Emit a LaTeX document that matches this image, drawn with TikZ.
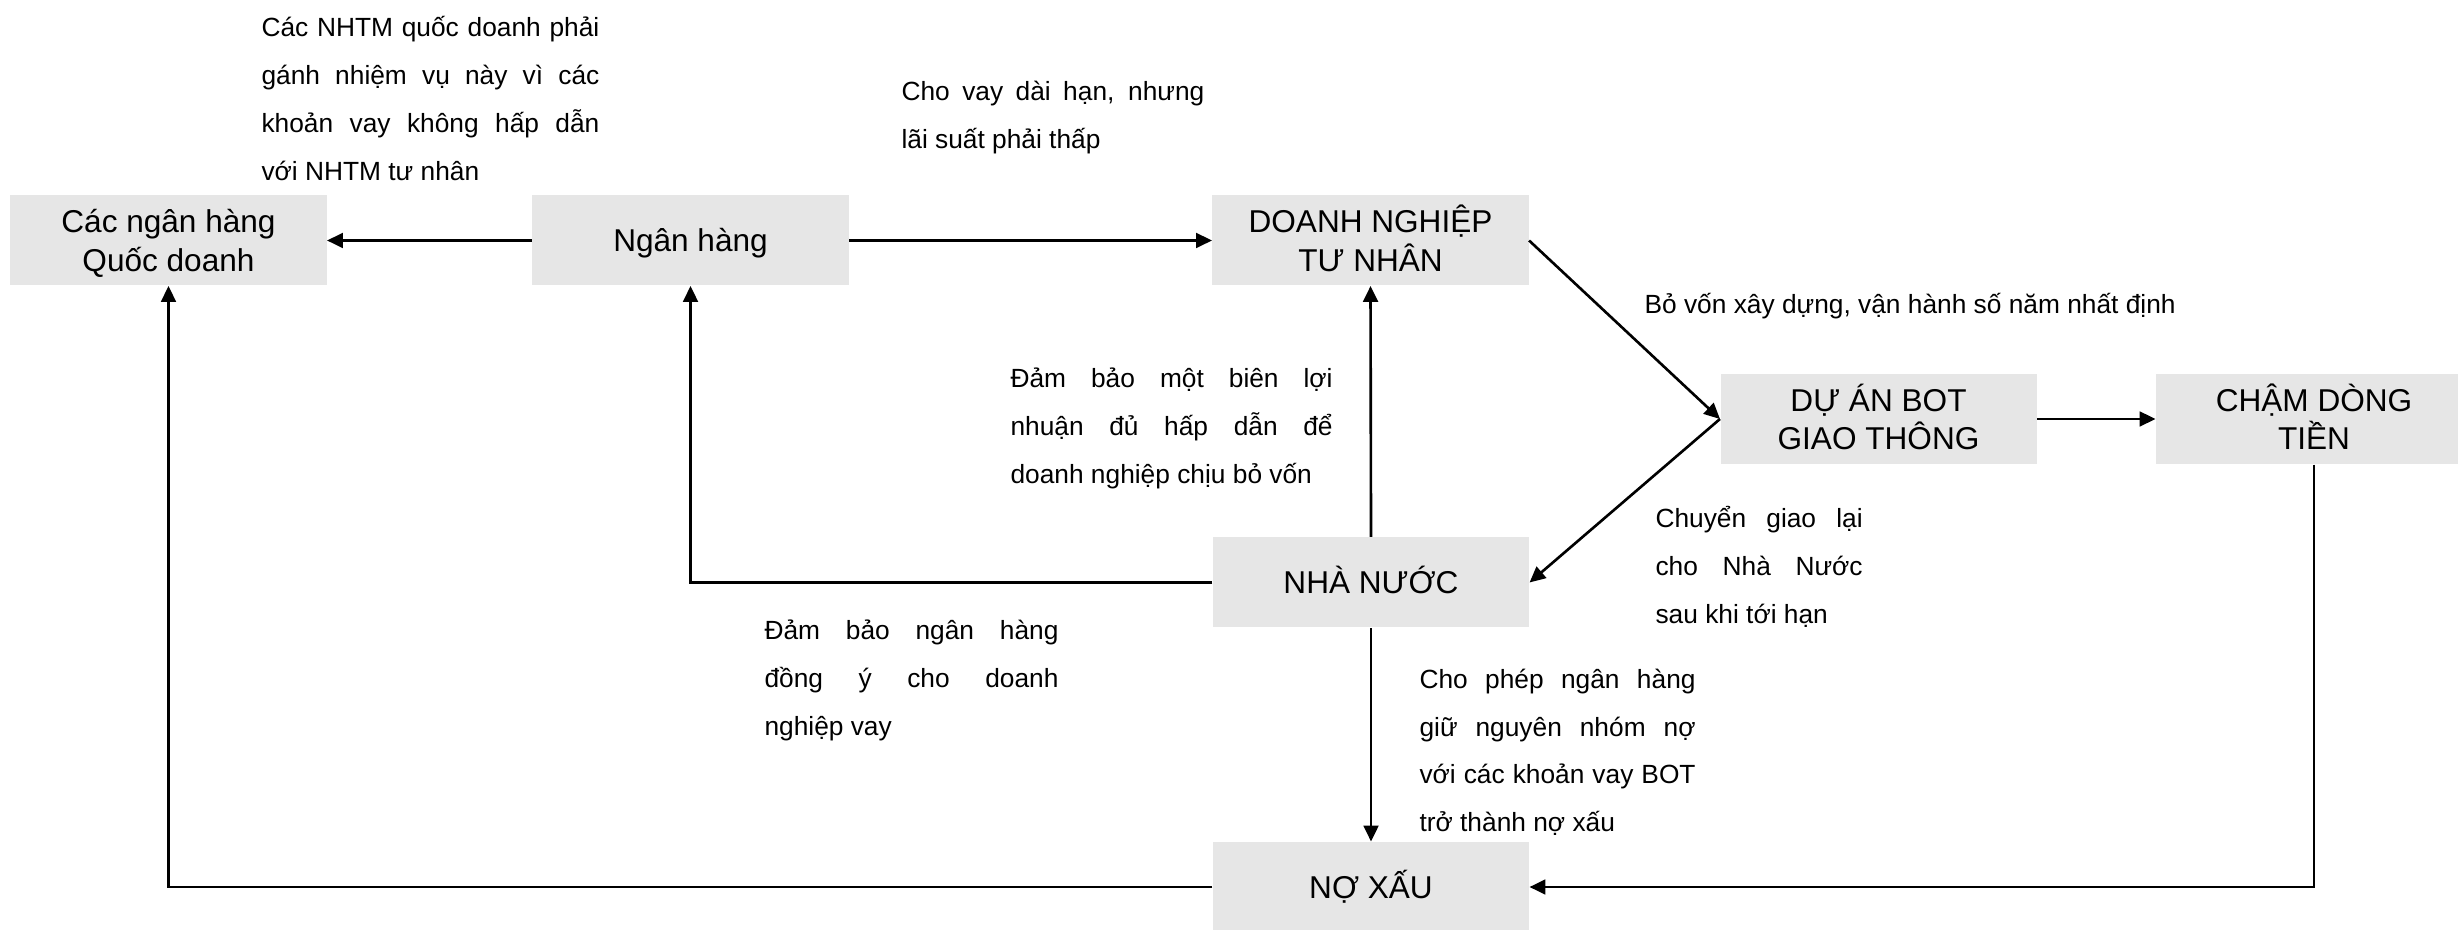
\documentclass[tikz,border=0pt]{standalone}
\usepackage{fontspec}
\setmainfont{Liberation Sans}
\usetikzlibrary{arrows.meta}
\definecolor{boxgray}{RGB}{230,230,230}
\setlength{\lineskiplimit}{-20pt}
\tikzset{
  box/.style={fill=boxgray, draw=none, minimum width=120.1pt, minimum height=34.2pt,
    inner sep=0pt, align=center, font=\fontsize{12}{14.6}\selectfont},
  conn/.style={line width=1pt, -{Triangle[length=6pt,width=5.6pt]}},
  lbl/.style={anchor=base west, inner sep=0pt, font=\fontsize{10}{18.24}\selectfont}
}
\newcommand{\jline}[2]{\makebox[#1][s]{#2}}
\newcommand{\lblbox}[2]{\parbox[t]{#1}{\fontsize{10}{18.24}\selectfont #2}}
\newcommand{\twol}[2]{\rule{0pt}{12pt}#1\\#2\rule[-3.4pt]{0pt}{3.4pt}}
\newcommand{\onel}[1]{\rule[-3.4pt]{0pt}{15.4pt}#1}
\begin{document}
\begin{tikzpicture}[x=0.38pt,y=-0.38pt]
\useasboundingbox (0,0) rectangle (2458,930);
\clip (0,0) rectangle (2458,930);
\fill[white] (0,0) rectangle (2458,930);

% boxes
\node[box] (A) at (168.5,240.5) {\twol{Các ngân hàng}{Quốc doanh}};
\node[box] (B) at (690.5,240.5) {\onel{Ngân hàng}};
\node[box] (C) at (1370.5,240.5) {\twol{DOANH NGHIỆP}{TƯ NHÂN}};
\node[box] (D) at (1878.5,419) {\twol{DỰ ÁN BOT}{GIAO THÔNG}};
\node[box] (E) at (2314,419) {\twol{CHẬM DÒNG}{TIỀN}};
\node[box] (F) at (1371,582.5) {\onel{NHÀ NƯỚC}};
\node[box] (G) at (1371,887) {\onel{NỢ XẤU}};

% labels
\node[lbl] (lab1) at (261,36.5) {\lblbox{128.4pt}{\jline{128.4pt}{Các NHTM quốc doanh phải}\\\jline{128.4pt}{gánh nhiệm vụ này vì các}\\\jline{128.4pt}{khoản vay không hấp dẫn}\\với NHTM tư nhân}};
\node[lbl] (lab2) at (901,100.5) {\lblbox{115.1pt}{\jline{115.1pt}{Cho vay dài hạn, nhưng}\\lãi suất phải thấp}};
\node[lbl] (lab3) at (1644,314) {Bỏ vốn xây dựng, vận hành số năm nhất định};
\node[lbl] (lab4) at (1010,387.5) {\lblbox{122.4pt}{\jline{122.4pt}{Đảm bảo một biên lợi}\\\jline{122.4pt}{nhuận đủ hấp dẫn để}\\doanh nghiệp chịu bỏ vốn}};
\node[lbl] (lab5) at (1655,528) {\lblbox{78.7pt}{\jline{78.7pt}{Chuyển giao lại}\\\jline{78.7pt}{cho Nhà Nước}\\sau khi tới hạn}};
\node[lbl] (lab6) at (764,639.5) {\lblbox{111.7pt}{\jline{111.7pt}{Đảm bảo ngân hàng}\\\jline{111.7pt}{đồng ý cho doanh}\\nghiệp vay}};
\node[lbl] (lab7) at (1419,688) {\lblbox{104.9pt}{\jline{104.9pt}{Cho phép ngân hàng}\\\jline{104.9pt}{giữ nguyên nhóm nợ}\\\jline{104.9pt}{với các khoản vay BOT}\\trở thành nợ xấu}};

% connectors
\draw[conn] (B.west) -- (A.east);
\draw[conn] (B.east) -- (C.west);
\draw[conn] (C.east) -- (D.west);
\draw[conn] (D.west) -- (F.east);
\draw[conn] (D.east) -- (E.west);
\draw[conn] (F.north) -- (C.south);
\draw[conn] (F.west) -| (B.south);
\draw[conn] (F.south) -- (G.north);
\draw[conn] (E.south) |- (G.east);
\draw[conn] (G.west) -| (A.south);
\end{tikzpicture}
\end{document}
